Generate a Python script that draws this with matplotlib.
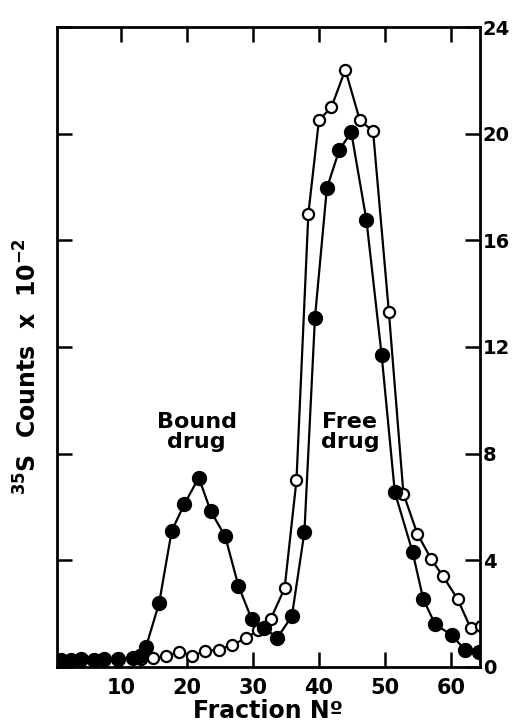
#!/usr/bin/env python3
import matplotlib
matplotlib.use("Agg")
import matplotlib.pyplot as plt

# Values (fraction number, counts x 10^-2)
bound_x = [1, 2.5, 4, 6, 7.5, 9.5, 11.8, 12.9, 13.8, 15.8, 17.7, 19.6, 21.8, 23.6,
           25.8, 27.8, 29.8, 31.7, 33.7, 35.9, 37.8, 39.4, 41.2, 43.1, 44.9, 47.2,
           49.5, 51.5, 54.2, 55.8, 57.6, 60.1, 62.1, 64.2]
bound_y = [0.25, 0.25, 0.3, 0.25, 0.3, 0.3, 0.35, 0.4, 0.75, 2.4, 5.1, 6.1, 7.1, 5.85,
           4.9, 3.05, 1.8, 1.45, 1.1, 1.9, 5.05, 13.1, 17.95, 19.4, 20.05, 16.75,
           11.7, 6.55, 4.3, 2.55, 1.6, 1.2, 0.65, 0.55]

free_x = [13, 14.9, 16.8, 18.8, 20.8, 22.8, 24.8, 26.8, 28.9, 30.8, 32.7, 34.8, 36.6,
          38.4, 40.0, 41.9, 44.0, 46.2, 48.2, 50.6, 52.8, 54.9, 57.0, 58.8, 61.0,
          63.0, 64.6]
free_y = [0.3, 0.33, 0.4, 0.57, 0.42, 0.6, 0.65, 0.82, 1.07, 1.38, 1.8, 2.95, 7.0,
          17.0, 20.5, 21.0, 22.4, 20.5, 20.1, 13.3, 6.5, 5.0, 4.05, 3.4, 2.55,
          1.45, 1.55]

x_ticks = [10, 20, 30, 40, 50, 60]
y_ticks = [0, 4, 8, 12, 16, 20, 24]

plt.rcParams['font.family'] = 'DejaVu Sans'
plt.rcParams['font.weight'] = 'bold'

fig = plt.figure(figsize=(5.12, 7.22), dpi=100)
ax = fig.add_axes([0.111, 0.0762, 0.8265, 0.8864])

# open circles (free drug trace) drawn first, filled on top
ax.plot(free_x, free_y, color='black', lw=1.6, marker='o', ms=8,
        mfc='white', mec='black', mew=1.6, zorder=2)
ax.plot(bound_x, bound_y, color='black', lw=1.6, marker='o', ms=10,
        mfc='black', mec='black', zorder=3)

ax.set_xlim(0.3, 64.4)
ax.set_ylim(0, 24)

ax.set_xticks(x_ticks)
ax.set_yticks(y_ticks)
ax.tick_params(axis='both', direction='in', length=11, width=1.8,
               top=True, right=True, labelleft=False, labelright=True)
ax.tick_params(axis='x', pad=8, labelsize=15)
ax.tick_params(axis='y', pad=2, labelsize=14)
for lab in ax.get_xticklabels() + ax.get_yticklabels():
    lab.set_fontweight('bold')
for s in ax.spines.values():
    s.set_linewidth(2)

ax.set_xlabel("Fraction N\u00ba", fontsize=17, fontweight='bold', labelpad=1)
ax.set_ylabel("$\\mathbf{^{35}S\\ \\ Counts\\ \\ x\\ \\ 10^{-2}}$", fontsize=17)
ax.yaxis.set_label_coords(-0.035, 0.47)

ax.text(21.5, 8.8, "Bound\ndrug", ha='center', va='center', fontsize=16,
        fontweight='bold', linespacing=1.0)
ax.text(44.7, 8.8, "Free\ndrug", ha='center', va='center', fontsize=16,
        fontweight='bold', linespacing=1.0)

fig.savefig("out.png", dpi=100)
